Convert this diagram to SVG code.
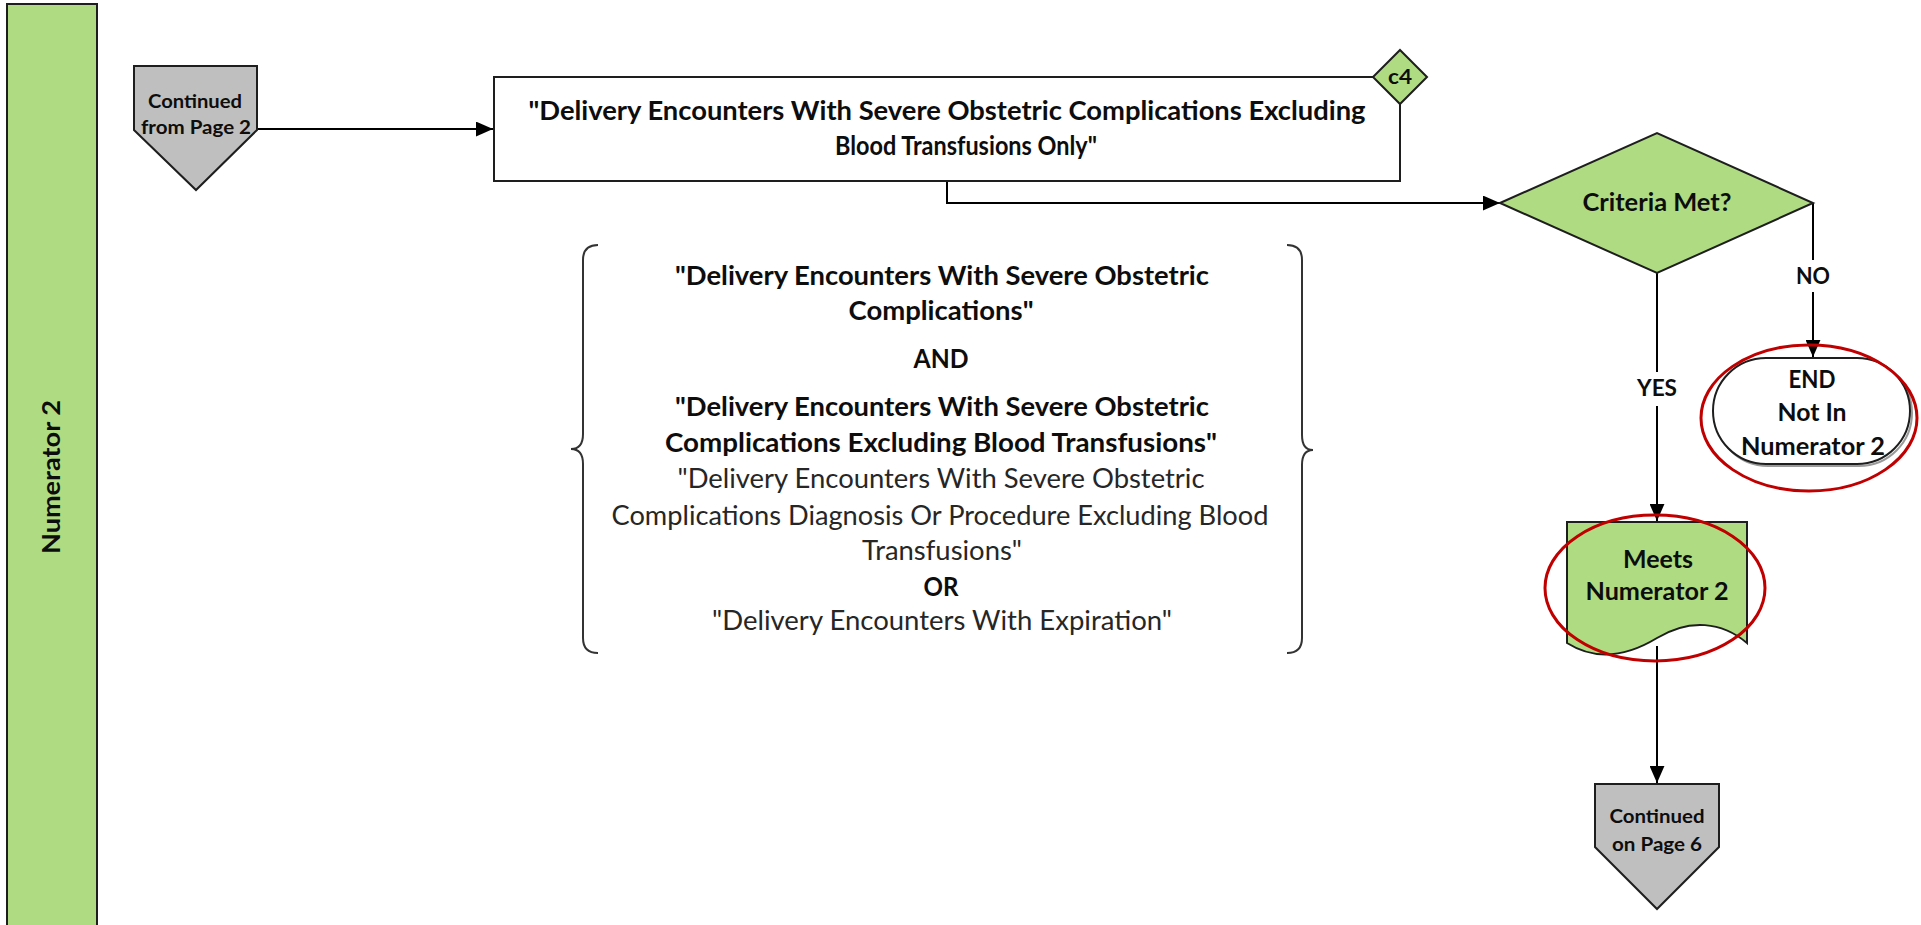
<svg xmlns="http://www.w3.org/2000/svg" width="1921" height="925" viewBox="0 0 1921 925">
  <style>
    .lbl { font-family: Lato, "Liberation Sans", sans-serif; font-weight: 700; fill: #0d0d0d; text-anchor: middle; }
    .reg { font-family: Lato, "Liberation Sans", sans-serif; font-weight: 400; fill: #262626; text-anchor: middle; }
    .shape { stroke: #1e1e1e; stroke-width: 2; }
    .green { fill: #afdc82; }
    .grey { fill: #bfbfbf; }
    .wire { fill: none; stroke: #000; stroke-width: 2; }
    .ring { fill: none; stroke: #c00000; stroke-width: 3; }
    .brace { fill: none; stroke: #333; stroke-width: 2; }
  </style>
  <defs>
    <marker id="arrow" viewBox="0 0 16 14" refX="16" refY="7" markerWidth="17" markerHeight="15" markerUnits="userSpaceOnUse" orient="auto">
      <path d="M0,0 L16,7 L0,14 Z" fill="#000"/>
    </marker>
  </defs>

  <rect width="1921" height="925" fill="#fff"/>

  <!-- swimlane header -->
  <g id="lane">
    <rect x="7" y="4" width="90" height="930" class="shape green"/>
    <text class="lbl" font-size="25" textLength="154" lengthAdjust="spacingAndGlyphs" transform="translate(60,477) rotate(-90)">Numerator 2</text>
  </g>

  <!-- connectors -->
  <g id="connectors">
    <path class="wire" d="M257,129 H493" marker-end="url(#arrow)"/>
    <path class="wire" d="M947,181 V203 H1500" marker-end="url(#arrow)"/>
    <path class="wire" d="M1813,203 V357" marker-end="url(#arrow)"/>
    <path class="wire" d="M1657,273 V521" marker-end="url(#arrow)"/>
    <path class="wire" d="M1657,646 V783" marker-end="url(#arrow)"/>
    <rect x="1792" y="260" width="42" height="32" fill="#fff"/>
    <text class="lbl" x="1813" y="284" font-size="23" textLength="34" lengthAdjust="spacingAndGlyphs">NO</text>
    <rect x="1633" y="372" width="48" height="34" fill="#fff"/>
    <text class="lbl" x="1657" y="396" font-size="23" textLength="40" lengthAdjust="spacingAndGlyphs">YES</text>
  </g>

  <!-- off-page connector in -->
  <g id="from-page-2">
    <path class="shape grey" d="M134,66 H257 V130 L196,190 L134,130 Z"/>
    <text class="lbl" x="195" y="108" font-size="19" textLength="94" lengthAdjust="spacingAndGlyphs">Continued</text>
    <text class="lbl" x="196" y="134" font-size="19" textLength="110" lengthAdjust="spacingAndGlyphs">from Page 2</text>
  </g>

  <!-- main process -->
  <g id="process">
    <rect x="494" y="77" width="906" height="104" fill="#fff" class="shape"/>
    <text class="lbl" x="947" y="120" font-size="26" textLength="837" lengthAdjust="spacingAndGlyphs">"Delivery Encounters With Severe Obstetric Complications Excluding</text>
    <text class="lbl" x="966" y="155" font-size="26" textLength="262" lengthAdjust="spacingAndGlyphs">Blood Transfusions Only"</text>
  </g>

  <!-- c4 tag -->
  <g id="tag-c4">
    <path class="shape green" d="M1400,50 L1427,77 L1400,104 L1373,77 Z"/>
    <text class="lbl" x="1400" y="84" font-size="20" textLength="24" lengthAdjust="spacingAndGlyphs">c4</text>
  </g>

  <!-- definition note -->
  <g id="definition">
    <path class="brace" d="M598,245 Q583,245 583,260 V434 Q583,449 571,449 Q583,449 583,464 V638 Q583,653 598,653"/>
    <path class="brace" d="M1287,245 Q1302,245 1302,260 V435 Q1302,450 1313,450 Q1302,450 1302,465 V638 Q1302,653 1287,653"/>
    <text class="lbl" x="942" y="285" font-size="26" textLength="534" lengthAdjust="spacingAndGlyphs">"Delivery Encounters With Severe Obstetric</text>
    <text class="lbl" x="941" y="320" font-size="26" textLength="185" lengthAdjust="spacingAndGlyphs">Complications"</text>
    <text class="lbl" x="941" y="368" font-size="26" textLength="55" lengthAdjust="spacingAndGlyphs">AND</text>
    <text class="lbl" x="942" y="416" font-size="26" textLength="534" lengthAdjust="spacingAndGlyphs">"Delivery Encounters With Severe Obstetric</text>
    <text class="lbl" x="941" y="452" font-size="26" textLength="552" lengthAdjust="spacingAndGlyphs">Complications Excluding Blood Transfusions"</text>
    <text class="reg" x="941" y="488" font-size="26" textLength="527" lengthAdjust="spacingAndGlyphs">"Delivery Encounters With Severe Obstetric</text>
    <text class="reg" x="940" y="525" font-size="26" textLength="657" lengthAdjust="spacingAndGlyphs">Complications Diagnosis Or Procedure Excluding Blood</text>
    <text class="reg" x="942" y="560" font-size="26" textLength="160" lengthAdjust="spacingAndGlyphs">Transfusions"</text>
    <text class="lbl" x="941" y="596" font-size="26" textLength="35" lengthAdjust="spacingAndGlyphs">OR</text>
    <text class="reg" x="942" y="630" font-size="26" textLength="460" lengthAdjust="spacingAndGlyphs">"Delivery Encounters With Expiration"</text>
  </g>

  <!-- decision -->
  <g id="decision">
    <path class="shape green" d="M1500,203 L1657,133 L1813,203 L1657,273 Z"/>
    <text class="lbl" x="1657" y="211" font-size="24" textLength="149" lengthAdjust="spacingAndGlyphs">Criteria Met?</text>
  </g>

  <!-- terminal: not in numerator -->
  <g id="end-not-in">
    <rect x="1715" y="360" width="197" height="106" rx="53" fill="none" stroke="#9a9a9a" stroke-width="2"/>
    <rect x="1713" y="358" width="197" height="106" rx="53" fill="#fff" class="shape"/>
    <text class="lbl" x="1812" y="388" font-size="24" textLength="47" lengthAdjust="spacingAndGlyphs">END</text>
    <text class="lbl" x="1812" y="421" font-size="24" textLength="69" lengthAdjust="spacingAndGlyphs">Not In</text>
    <text class="lbl" x="1813" y="455" font-size="24" textLength="144" lengthAdjust="spacingAndGlyphs">Numerator 2</text>
    <ellipse class="ring" cx="1809" cy="418" rx="108" ry="73"/>
  </g>

  <!-- document: meets numerator -->
  <g id="meets">
    <path class="shape green" d="M1567,522 H1747 V643 C1722,622 1690,618 1657,638 C1624,658 1594,660 1567,643 Z"/>
    <text class="lbl" x="1658" y="568" font-size="24" textLength="70" lengthAdjust="spacingAndGlyphs">Meets</text>
    <text class="lbl" x="1657" y="600" font-size="24" textLength="143" lengthAdjust="spacingAndGlyphs">Numerator 2</text>
    <ellipse class="ring" cx="1655" cy="588" rx="110" ry="73"/>
  </g>

  <!-- off-page connector out -->
  <g id="to-page-6">
    <path class="shape grey" d="M1595,784 H1719 V847 L1657,909 L1595,847 Z"/>
    <text class="lbl" x="1657" y="823" font-size="19" textLength="95" lengthAdjust="spacingAndGlyphs">Continued</text>
    <text class="lbl" x="1657" y="851" font-size="19" textLength="90" lengthAdjust="spacingAndGlyphs">on Page 6</text>
  </g>
</svg>
